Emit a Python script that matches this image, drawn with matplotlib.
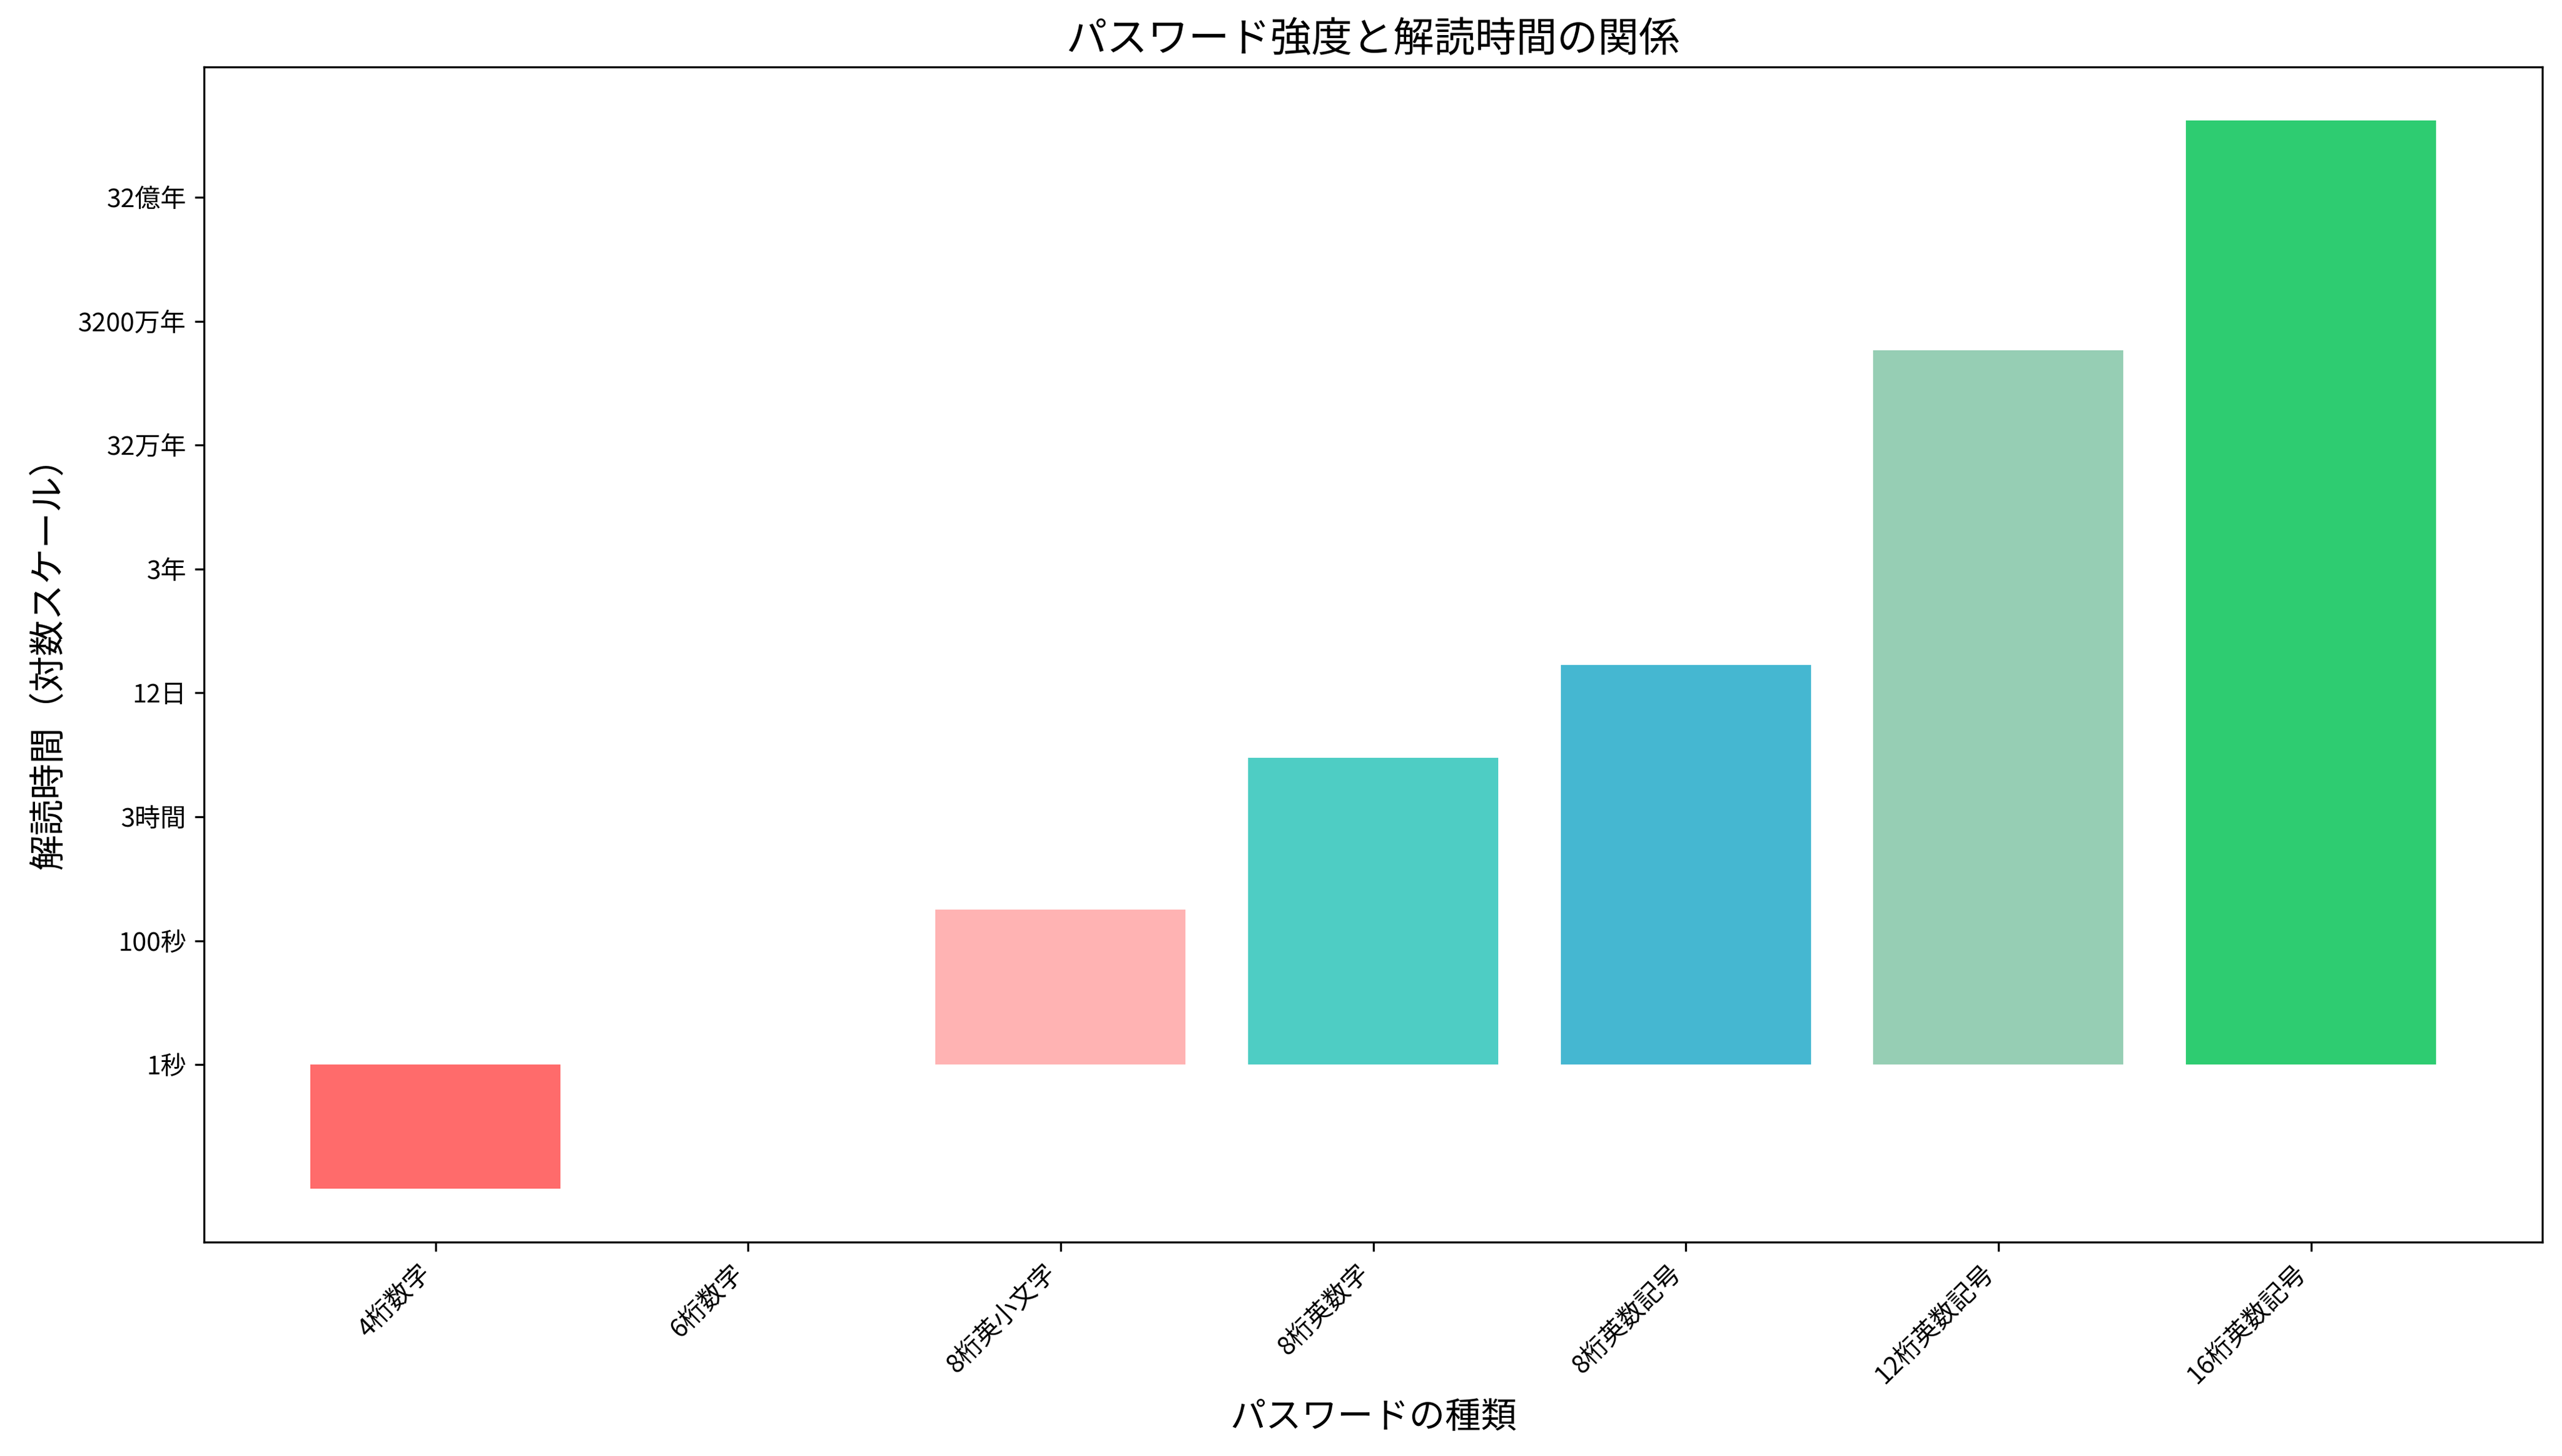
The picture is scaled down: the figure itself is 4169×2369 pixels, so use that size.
import matplotlib
matplotlib.use("Agg")
import matplotlib.pyplot as plt

plt.rcParams['font.family'] = ['Noto Sans CJK JP', 'DejaVu Sans']

categories = ['4桁数字', '6桁数字', '8桁英小文字', '8桁英数字', '8桁英数記号', '12桁英数記号', '16桁英数記号']
log_seconds = [-2.0, 0.0, 2.5, 4.95, 6.45, 11.53, 15.24]
colors = ['#FF6B6B', '#FFA07A', '#FFB3B3', '#4ECDC4', '#45B7D1', '#96CEB4', '#2ECC71']
tick_values = [0, 2, 4, 6, 8, 10, 12, 14]
tick_labels = ['1秒', '100秒', '3時間', '12日', '3年', '32万年', '3200万年', '32億年']

fig = plt.figure(figsize=(4169/300, 2369/300), dpi=300)
ax = fig.add_axes([0.0797, 0.147, 0.9126, 0.807])
ax.bar(categories, log_seconds, color=colors, width=0.8)
ax.set_yticks(tick_values)
ax.set_yticklabels(tick_labels)
ax.set_title('パスワード強度と解読時間の関係', fontsize=16)
ax.set_xlabel('パスワードの種類', fontsize=14)
ax.set_ylabel('解読時間（対数スケール）', fontsize=14)
plt.setp(ax.get_xticklabels(), rotation=45, ha='right')
fig.savefig('out.png', dpi=300)
